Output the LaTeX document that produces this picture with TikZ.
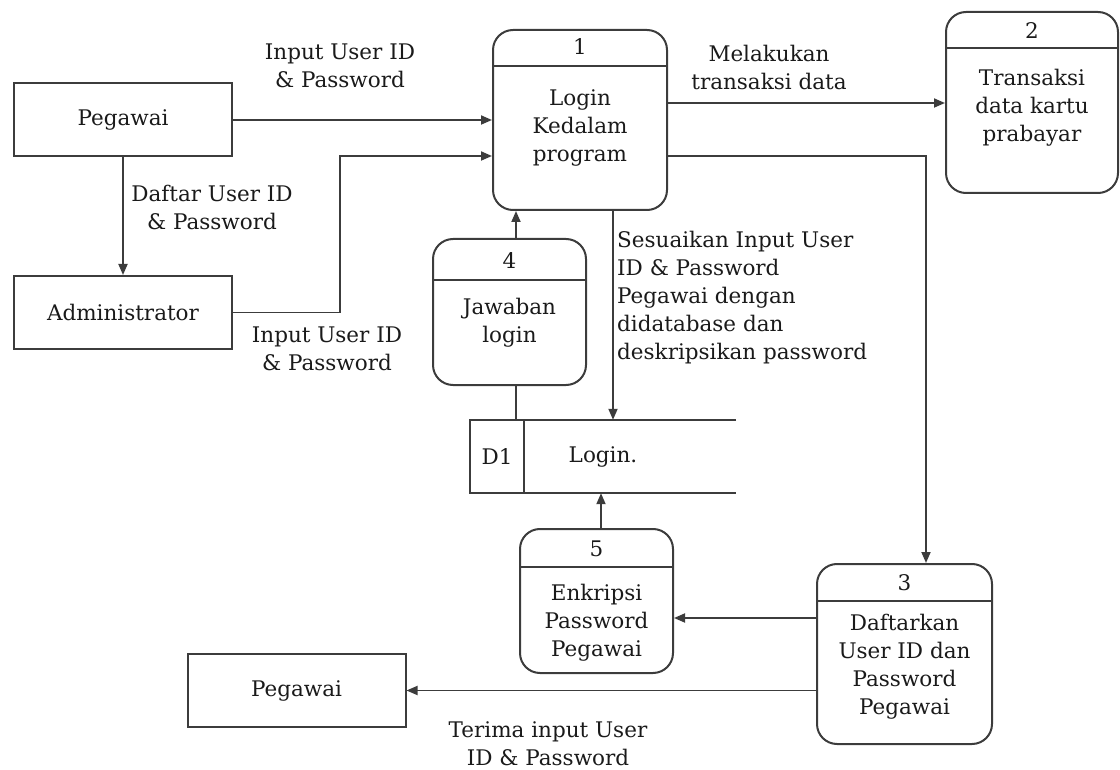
\documentclass[tikz,border=0pt]{standalone}
\usepackage{fontspec}
\usetikzlibrary{arrows.meta}
\newfontfamily\djs{DejaVu Serif}
\definecolor{ln}{HTML}{3C3C3C}
\definecolor{tx}{HTML}{1A1A1A}
\begin{document}
\begin{tikzpicture}[x=1pt,y=-1pt,
  every node/.style={font=\djs\fontsize{21.5}{28}\selectfont, text=tx, inner sep=0pt},
  ext/.style={draw=ln, line width=2pt, minimum width=218pt, minimum height=73pt},
  proc/.style={draw=ln, line width=2pt, rounded corners=20pt},
  hline/.style={draw=ln, line width=2pt},
  flow/.style={draw=ln, line width=1.8pt, -{Triangle[length=11pt,width=9pt]}},
  plain/.style={draw=ln, line width=1.8pt},
  lbl/.style={align=center}]
\useasboundingbox (0,0) rectangle (1120,770);

% external entities
\node[ext] (pegA) at (123,120) {Pegawai};
\node[ext] (admin) at (123,312.5) {Administrator};
\node[ext] (pegB) at (296.5,690.5) {Pegawai};

% processes
\node[proc, minimum width=174pt, minimum height=180pt] (p1) at (580,120) {};
\draw[hline] (p1.west |- 0,66) -- (p1.east |- 0,66);
\node (n1) at (580,47) {1};
\node[lbl] (t1) at (580,127.5) {Login\\Kedalam\\program};

\node[proc, minimum width=172pt, minimum height=181pt] (p2) at (1032,102.5) {};
\draw[hline] (p2.west |- 0,48) -- (p2.east |- 0,48);
\node (n2) at (1032,31) {2};
\node[lbl] (t2) at (1032,108) {Transaksi\\data kartu\\prabayar};

\node[proc, minimum width=175pt, minimum height=180pt] (p3) at (904.5,654) {};
\draw[hline] (p3.west |- 0,601) -- (p3.east |- 0,601);
\node (n3) at (904.5,583) {3};
\node[lbl] (t3) at (904.5,666.5) {Daftarkan\\User ID dan\\Password\\Pegawai};

\node[proc, minimum width=153pt, minimum height=146pt] (p4) at (509.5,312) {};
\draw[hline] (p4.west |- 0,280) -- (p4.east |- 0,280);
\node (n4) at (509.5,261) {4};
\node[lbl] (t4) at (509.5,322.5) {Jawaban\\login};

\node[proc, minimum width=153pt, minimum height=144pt] (p5) at (596.5,601) {};
\draw[hline] (p5.west |- 0,567) -- (p5.east |- 0,567);
\node (n5) at (596.5,549) {5};
\node[lbl] (t5) at (596.5,622.5) {Enkripsi\\Password\\Pegawai};

% data store
\node[minimum width=266pt, minimum height=73pt] (d1) at (603,456.5) {Login.};
\draw[hline] (d1.north east) -- (d1.north west) -- (d1.south west) -- (d1.south east);
\draw[hline] (d1.north -| 524,0) -- (d1.south -| 524,0);
\node (d1id) at (497,457) {D1};

% flows
\draw[flow] (pegA.east) -- (pegA -| p1.west);
\draw[flow] (pegA.south) -- (admin.north);
\coordinate (bend1) at (340,156);
\draw[flow] (admin.east) -| (bend1) -- (bend1 -| p1.west);
\draw[flow] (p1.east |- 0,103) -- (p2.west |- 0,103);
\draw[flow] (p1.east |- 0,156) -| (p3.north -| 926,0);
\draw[flow] (p1.south -| 613,0) -- (d1.north -| 613,0);
\draw[flow] (p4.north -| 516,0) -- (p1.south -| 516,0);
\draw[plain] (d1.north -| 516,0) -- (p4.south -| 516,0);
\draw[flow] (p5.north -| 601,0) -- (d1.south -| 601,0);
\draw[flow] (p3.west |- 0,618) -- (p5.east |- 0,618);
\draw[flow] (p3.west |- 0,690.5) -- (pegB.east);

% labels
\node[lbl] (l1) at (340,66) {Input User ID\\\& Password};
\node[lbl] (l2) at (212,207.5) {Daftar User ID\\\& Password};
\node[lbl] (l3) at (327,348.5) {Input User ID\\\& Password};
\node[lbl] (l4) at (769,67) {Melakukan\\transaksi data};
\node[align=left, anchor=west] (l5) at (617,298) {Sesuaikan Input User\\ID \& Password\\Pegawai dengan\\didatabase dan\\deskripsikan password};
\node[lbl] (l6) at (548,744) {Terima input User\\ID \& Password};
\end{tikzpicture}
\end{document}
